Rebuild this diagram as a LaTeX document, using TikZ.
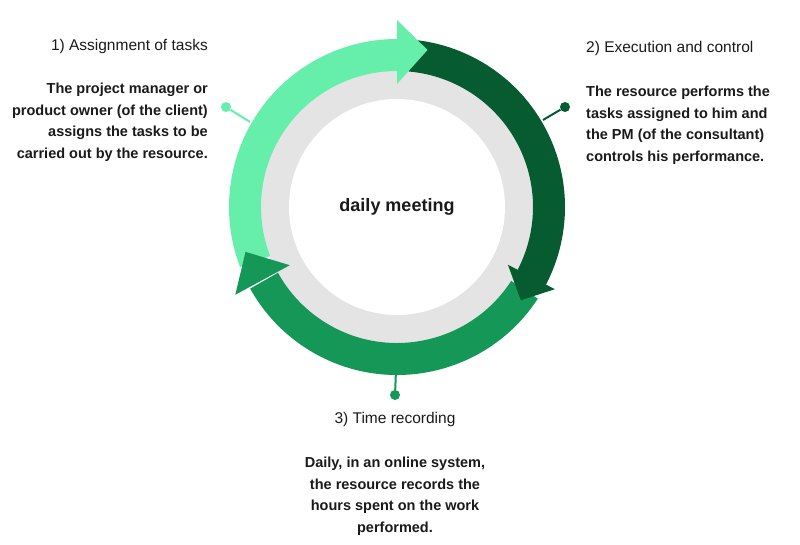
\documentclass[tikz,border=0pt]{standalone}
\usepackage{fontspec}
\setmainfont{Liberation Sans}
\usetikzlibrary{calc}
\definecolor{lgreen}{HTML}{66EEAB}
\definecolor{dgreen}{HTML}{075B31}
\definecolor{mgreen}{HTML}{149757}
\definecolor{ringgray}{HTML}{E4E4E4}
\definecolor{txt}{HTML}{1A1A1A}
\tikzset{
  band/.style={line width=32pt},
  pin/.style={circle, inner sep=0pt, minimum size=10pt},
  title/.style={inner sep=0pt, text=txt, font=\fontsize{15.5}{18}\selectfont},
  body/.style={inner sep=0pt, text=txt, font=\fontsize{14.5}{21.6}\selectfont\bfseries},
}
\begin{document}
\begin{tikzpicture}[x=1pt,y=1pt]
\useasboundingbox (0,0) rectangle (800,545);
\coordinate (C) at (397,338);
% gray ring and white centre
\fill[ringgray] (C) circle[radius=137];
\fill[white] (C) circle[radius=108];
% bands
\draw[band, lgreen] ($(C)+(201:152)$) arc[start angle=201, end angle=89, radius=152];
\draw[band, dgreen] ($(C)+(85:152)$) arc[start angle=85, end angle=-28, radius=152];
\draw[band, mgreen] ($(C)+(-33:152)$) arc[start angle=-33, end angle=-151, radius=152];
% heads
\fill[lgreen] ($(C)+(90:123)$) -- ($(C)+(90:187)$) -- ($(C)+(79:160)$) -- cycle;
\fill[dgreen] ($(C)+(-27.5:125)$) -- ($(C)+(-27.5:178)$) -- ($(C)+(-37:155)$) -- cycle;
\fill[mgreen] ($(C)+(208.5:122)$) -- ($(C)+(208.5:184)$) -- ($(C)+(196.5:158)$) -- cycle;
% pins
\node[pin, fill=lgreen] (p1) at (226,438) {};
\coordinate (e1) at (250,423);
\draw[lgreen, line width=2pt] (p1) -- (e1);
\node[pin, fill=dgreen] (p2) at (565,438) {};
\coordinate (e2) at (543,425);
\draw[dgreen, line width=2pt] (p2) -- (e2);
\node[pin, fill=mgreen] (p3) at (395,150) {};
\coordinate (e3) at (396,175);
\draw[mgreen, line width=2pt] (p3) -- (e3);
% centre
\node[inner sep=0pt, text=txt, font=\fontsize{18}{20}\selectfont\bfseries] (c) at (397,338) {daily meeting};
% texts
\node[title, anchor=base east] (t1) at (208,494.5) {1) Assignment of tasks};
\node[body, anchor=north east, align=right] (b1) at (208,462) {The project manager or\\product owner (of the client)\\assigns the tasks to be\\carried out by the resource.};
\node[title, anchor=base west] (t2) at (586,492.5) {2) Execution and control};
\node[body, anchor=north west, align=left] (b2) at (586,459) {The resource performs the\\tasks assigned to him and\\the PM (of the consultant)\\controls his performance.};
\node[title, anchor=base] (t3) at (395,121.5) {3) Time recording};
\node[body, anchor=north, align=center] (b3) at (395,88) {Daily, in an online system,\\the resource records the\\hours spent on the work\\performed.};
\end{tikzpicture}
\end{document}
